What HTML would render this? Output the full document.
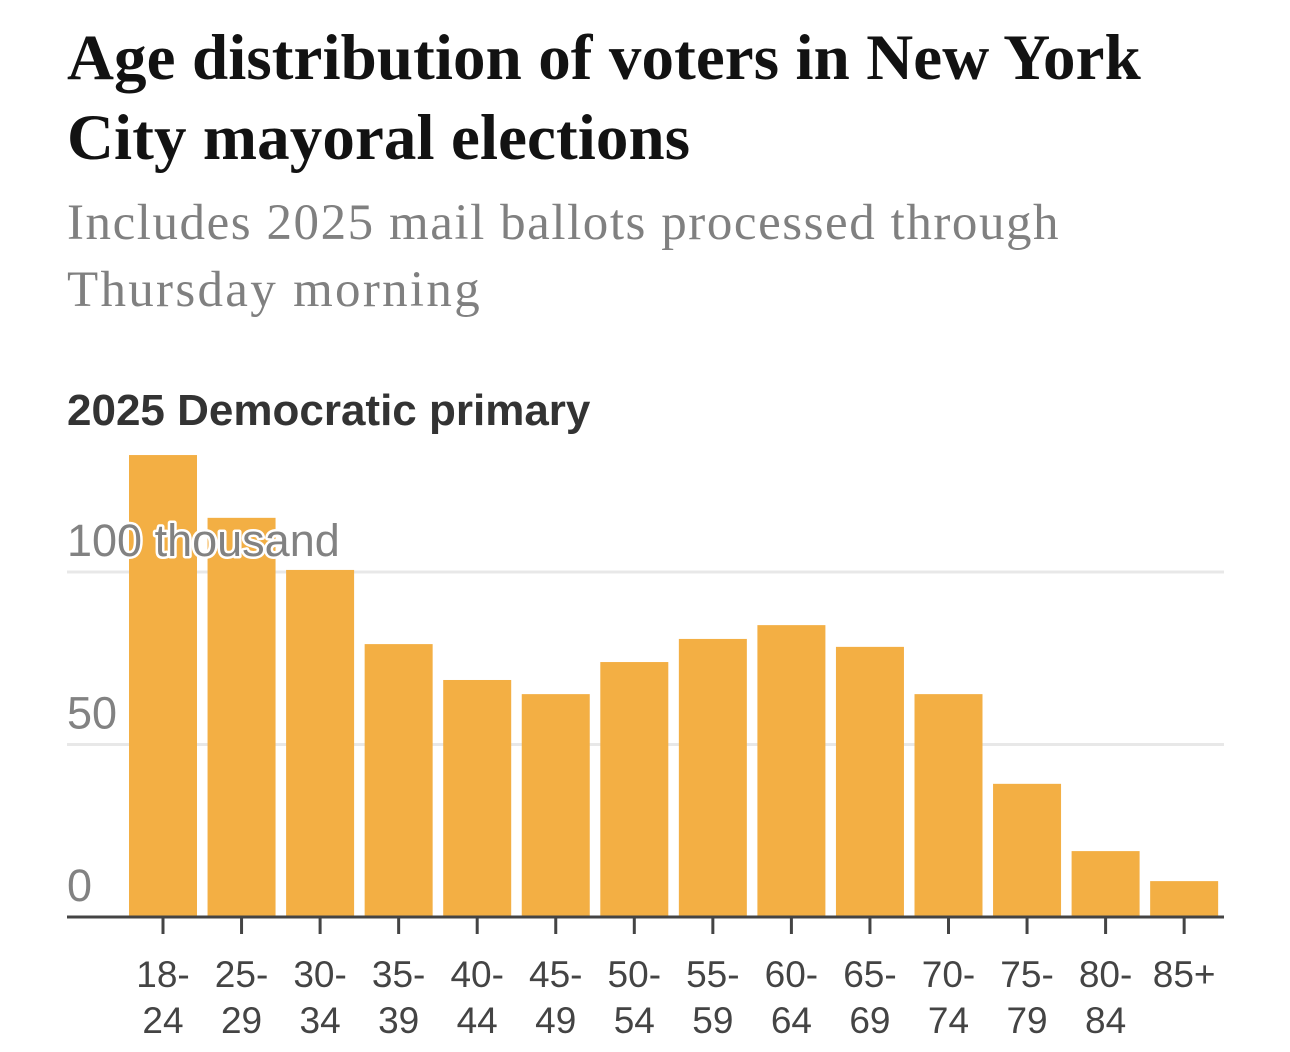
<!DOCTYPE html>
<html lang="en">
<head>
<meta charset="utf-8">
<title>Age distribution of voters in New York City mayoral elections</title>
<style>
html,body{margin:0;padding:0;background:#fff;width:1290px;height:1052px;overflow:hidden}
svg{display:block}
.title{font-family:"Liberation Serif",serif;font-weight:700;font-size:65px;fill:#121212;letter-spacing:0.1px}
.sub{font-family:"Liberation Serif",serif;font-size:51px;fill:#808080;letter-spacing:1.55px}
.panel{font-family:"Liberation Sans",sans-serif;font-weight:700;font-size:44px;fill:#333}
.ytick{font-family:"Liberation Sans",sans-serif;font-size:45px;fill:#828282;stroke:#fff;stroke-width:5px;paint-order:stroke;stroke-linejoin:round}
.xtick{font-family:"Liberation Sans",sans-serif;font-size:37px;fill:#444;text-anchor:middle}
</style>
</head>
<body>
<svg id="chart" width="1290" height="1052" viewBox="0 0 1290 1052" xmlns="http://www.w3.org/2000/svg">
  <text class="title" x="67" y="79">Age distribution of voters in New York</text>
  <text class="title" x="67" y="159">City mayoral elections</text>
  <text class="sub" x="67" y="239">Includes 2025 mail ballots processed through</text>
  <text class="sub" x="67" y="306" style="letter-spacing:2.3px">Thursday morning</text>
  <text class="panel" x="67" y="425">2025 Democratic primary</text>
  <g id="grid"></g>
  <g id="bars"></g>
  <g id="yticks"></g>
  <g id="xaxis"></g>
</svg>
<script>
const categories = [["18-","24"],["25-","29"],["30-","34"],["35-","39"],["40-","44"],["45-","49"],["50-","54"],["55-","59"],["60-","64"],["65-","69"],["70-","74"],["75-","79"],["80-","84"],["85+"]];
const voters = [133.9,115.7,100.6,79.1,68.7,64.6,73.9,80.6,84.6,78.3,64.6,38.6,19.1,10.4];
const yTickValues = [0,50,100];
const yTickLabels = ["0","50","100 thousand"];

const NS = "http://www.w3.org/2000/svg";
const plotLeft = 67, plotRight = 1224;
const baseline = 917, pxPerThousand = 3.45;
const firstCenter = 163, step = 78.55, barWidth = 68;
const yScale = v => baseline - v * pxPerThousand;
const xScale = i => firstCenter + i * step;

function make(tag, attrs, parent) {
  const el = document.createElementNS(NS, tag);
  for (const k in attrs) el.setAttribute(k, attrs[k]);
  parent.appendChild(el);
  return el;
}

const grid = document.getElementById("grid");
const barsG = document.getElementById("bars");
const yG = document.getElementById("yticks");
const xG = document.getElementById("xaxis");

yTickValues.forEach(v => {
  if (v === 0) return;
  const line = make("line", {x1: plotLeft, x2: plotRight, y1: yScale(v), y2: yScale(v), stroke: "#e8e8e8", "stroke-width": 3}, grid);
  
  
});

voters.forEach((v, i) => {
  const bar = make("rect", {x: xScale(i) - barWidth / 2, y: yScale(v), width: barWidth, height: baseline - yScale(v), fill: "#f3af44"}, barsG);
  
  
});

yTickValues.forEach((v, i) => {
  const t = make("text", {class: "ytick", x: 67, y: yScale(v) - 16}, yG);
  t.textContent = yTickLabels[i];
  
  
});

const axis = make("line", {x1: plotLeft, x2: plotRight, y1: baseline, y2: baseline, stroke: "#444", "stroke-width": 3}, xG);



categories.forEach((lines, i) => {
  const tick = make("line", {x1: xScale(i), x2: xScale(i), y1: baseline, y2: baseline + 17, stroke: "#444", "stroke-width": 3}, xG);
  
  
  lines.forEach((s, j) => {
    const t = make("text", {class: "xtick", x: xScale(i), y: 987 + j * 46}, xG);
    t.textContent = s;
    
    
  });
});
</script>
</body>
</html>
